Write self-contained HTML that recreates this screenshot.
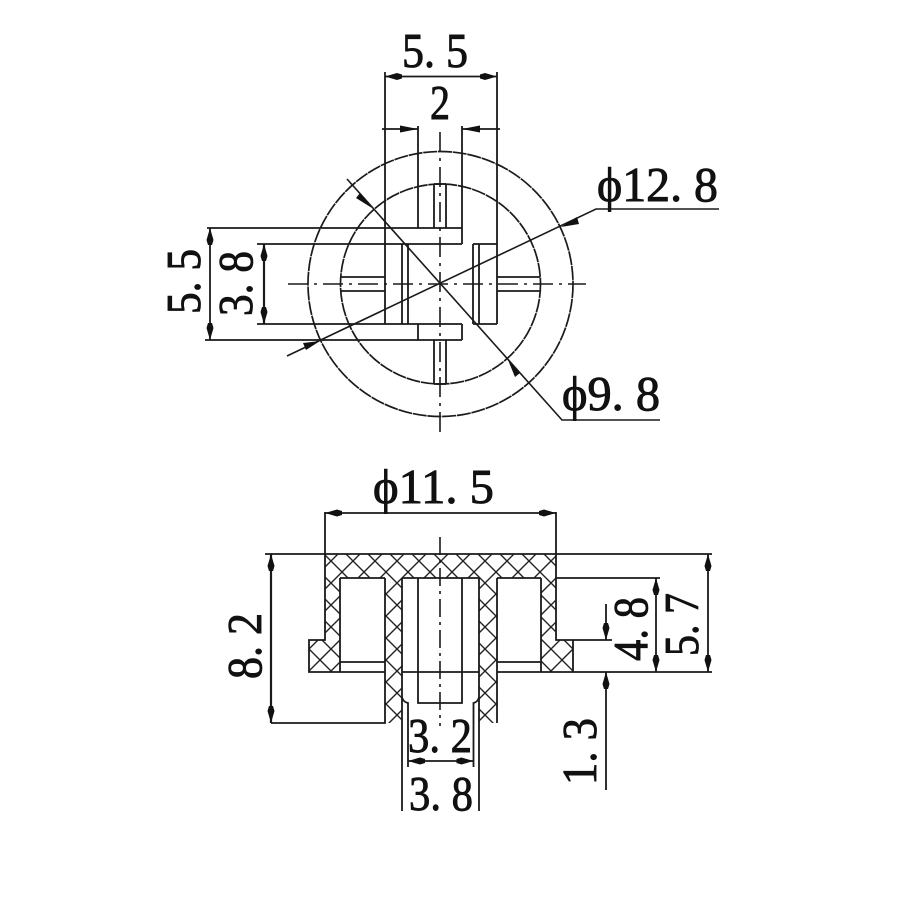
<!DOCTYPE html>
<html><head><meta charset="utf-8"><style>
html,body{margin:0;padding:0;background:#fff}
svg{display:block}
text{font-family:"Liberation Serif","DejaVu Serif",serif;font-size:49px;fill:#111;stroke:#111;stroke-width:.9}
</style></head><body>
<svg width="900" height="900" viewBox="0 0 900 900" xmlns="http://www.w3.org/2000/svg">
<defs>
<marker id="a" markerUnits="userSpaceOnUse" markerWidth="20" markerHeight="10" refX="18" refY="5" orient="auto-start-reverse"><path d="M18,5 L6,1.500 L1,3 L1,7 L6,8.500 Z" fill="#111"/></marker>
<pattern id="h" patternUnits="userSpaceOnUse" width="22" height="22" x="320" y="550"><path d="M0,0L22,22M22,0L0,22" stroke="#222" stroke-width="1.4"/></pattern>
</defs>
<rect width="900" height="900" fill="#fff"/>

<!-- section hatch -->
<path fill="url(#h)" d="M325,554H556V640H573V672H541V578H497V723H479V578H402V723H385V578H340V672H309V640H325Z"/>

<g fill="none" stroke="#1a1a1a" stroke-width="1.8">
<!-- top view circles -->
<circle cx="440.5" cy="284" r="132.5" stroke-width="1.7" stroke-dasharray="14 .8"/>
<circle cx="440.5" cy="284" r="100" stroke-width="1.7" stroke-dasharray="14 .8"/>
<!-- top view centre lines -->
<path d="M440,132V436M288,284H586" stroke-dasharray="20 6 3 6" stroke-width="1.6"/>
<!-- top view body -->
<path d="M385,72V324M497,72V324M418,126V228M462,126V244M382,129H418M462,129H500"/>
<path d="M418,324V340M462,324V340M402,244V324M408,244V324M473,244V324M479,244V324"/>
<path d="M207,228H462M257,244H462M257,324H462M205,340H462M473,244H497M473,324H497"/>
<path d="M434,184V228M446,184V228M434,184H446M434,340V384M446,340V384M434,384H446"/>
<path d="M341,277H385M341,291H385M497,277H540M497,291H540"/>
<!-- top dims -->
<path d="M385,76.500H497" marker-start="url(#a)" marker-end="url(#a)"/>
<path d="M210,228V340" marker-start="url(#a)" marker-end="url(#a)"/>
<path d="M264,244V324" marker-start="url(#a)" marker-end="url(#a)" stroke-width="2.200"/>
<!-- leaders -->
<path d="M287,356L596,209H719" stroke-width="1.6"/>
<path d="M347,179L562,420H660" stroke-width="1.6"/>

<!-- section outline -->
<path d="M325,512V640H309V672H385V723H271M325,554H712M340,578V672M340,578H385M385,578V723M402,578V697Q403,702 408,703V767M402,578H479M479,578V811M497,578V723M497,578H541M541,578V672M556,512V640H573V672M556,640H612M556,578H660M402,672H479M497,672H712M340,662H385M497,662H541"/>
<path d="M402,697V811M479,697Q478,702 473.500,703V767"/>
<path d="M418,578V703H462V578"/>
<path d="M265,554H325"/>
<path d="M440,537V726" stroke-dasharray="18 5 3 5" stroke-width="1.600"/>
<!-- section dims -->
<path d="M325,513H556" marker-start="url(#a)" marker-end="url(#a)"/>
<path d="M271,554V723" marker-start="url(#a)" marker-end="url(#a)" stroke-width="2.200"/>
<path d="M708,554V672" marker-start="url(#a)" marker-end="url(#a)"/>
<path d="M656,578V672" marker-start="url(#a)" marker-end="url(#a)"/>
<path d="M606,604V640" marker-end="url(#a)"/>
<path d="M606,672V790" marker-start="url(#a)"/>
<path d="M408,761H473.500" marker-start="url(#a)" marker-end="url(#a)"/>
</g>

<!-- separate arrowheads -->
<g fill="#111">
<polygon points="418,129 400,125.500 400,132.500"/>
<polygon points="462,129 480,125.500 480,132.500"/>
<polygon points="320,341 303,343 306,350"/>
<polygon points="561,227 577,217 579,224"/>
<polygon points="372,208 360,193 356,198"/>
<polygon points="508,360 520,373 515,377"/>
</g>

<!-- labels -->
<text x="402" y="67" textLength="66" lengthAdjust="spacingAndGlyphs">5. 5</text>
<text x="430" y="119" textLength="20" lengthAdjust="spacingAndGlyphs">2</text>
<text x="597" y="201" textLength="121" lengthAdjust="spacingAndGlyphs">ϕ12. 8</text>
<text x="562" y="410" textLength="98" lengthAdjust="spacingAndGlyphs">ϕ9. 8</text>
<text x="373" y="503" textLength="121" lengthAdjust="spacingAndGlyphs">ϕ11. 5</text>
<text x="408" y="752" textLength="64" lengthAdjust="spacingAndGlyphs">3. 2</text>
<text x="409" y="810" textLength="64" lengthAdjust="spacingAndGlyphs">3. 8</text>
<text transform="translate(200,314) rotate(-90)" textLength="65" lengthAdjust="spacingAndGlyphs">5. 5</text>
<text transform="translate(252,316) rotate(-90)" textLength="65" lengthAdjust="spacingAndGlyphs">3. 8</text>
<text transform="translate(261,679) rotate(-90)" textLength="66" lengthAdjust="spacingAndGlyphs">8. 2</text>
<text transform="translate(647,661) rotate(-90)" textLength="64" lengthAdjust="spacingAndGlyphs">4. 8</text>
<text transform="translate(698,656) rotate(-90)" textLength="63" lengthAdjust="spacingAndGlyphs">5. 7</text>
<text transform="translate(596,785) rotate(-90)" textLength="67" lengthAdjust="spacingAndGlyphs">1. 3</text>
</svg>
</body></html>
